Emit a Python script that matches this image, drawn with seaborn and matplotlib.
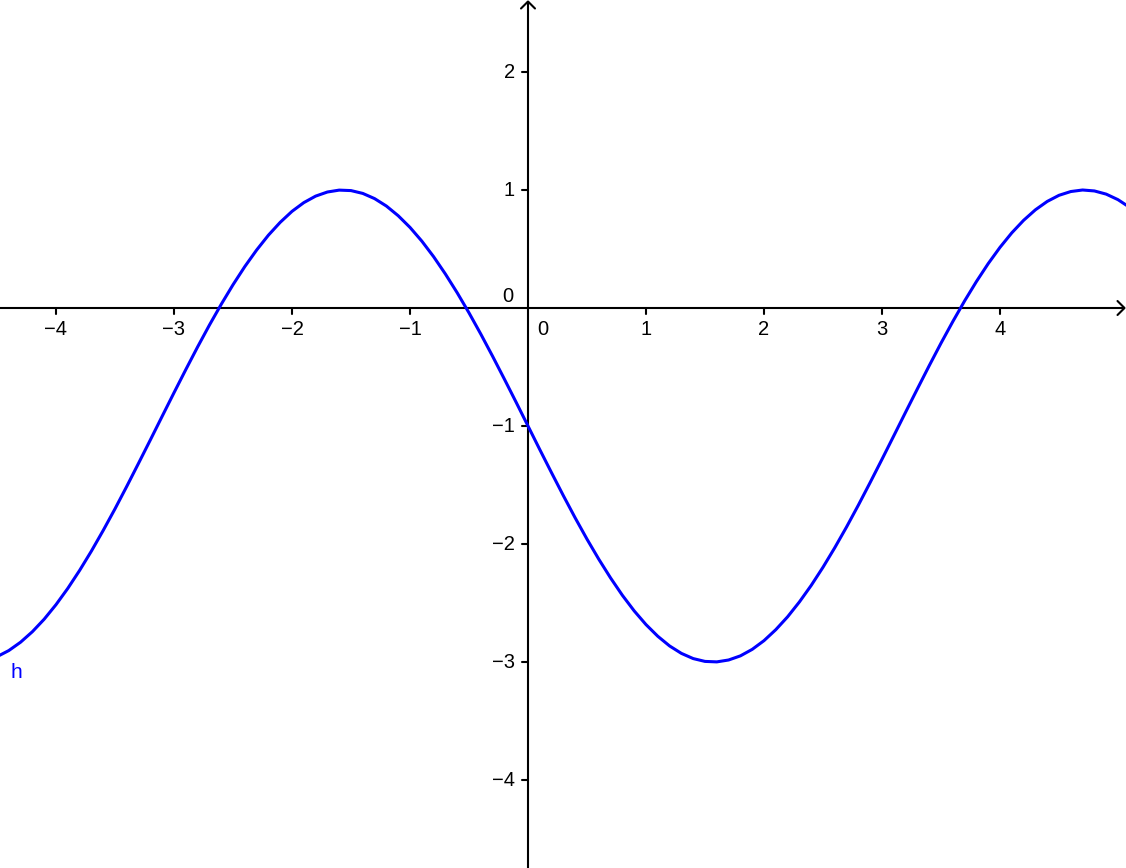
import matplotlib
matplotlib.use("Agg")
import matplotlib.pyplot as plt
import seaborn as sns
import pandas as pd
import numpy as np

sns.set_theme(style="white")
plt.rcParams['font.family'] = ['Liberation Sans', 'DejaVu Sans']

# values (curve h)
x_vals = [-4.5, -4.4, -4.3, -4.2, -4.1, -4.0, -3.9, -3.8, -3.7, -3.6, -3.5, -3.4, -3.3, -3.2,
          -3.1, -3.0, -2.9, -2.8, -2.7, -2.6, -2.5, -2.4, -2.3, -2.2, -2.1, -2.0, -1.9, -1.8,
          -1.7, -1.6, -1.5, -1.4, -1.3, -1.2, -1.1, -1.0, -0.9, -0.8, -0.7, -0.6, -0.5, -0.4,
          -0.3, -0.2, -0.1, 0.0, 0.1, 0.2, 0.3, 0.4, 0.5, 0.6, 0.7, 0.8, 0.9, 1.0, 1.1, 1.2,
          1.3, 1.4, 1.5, 1.6, 1.7, 1.8, 1.9, 2.0, 2.1, 2.2, 2.3, 2.4, 2.5, 2.6, 2.7, 2.8, 2.9,
          3.0, 3.1, 3.2, 3.3, 3.4, 3.5, 3.6, 3.7, 3.8, 3.9, 4.0, 4.1, 4.2, 4.3, 4.4, 4.5, 4.6,
          4.7, 4.8, 4.9, 5.0, 5.1]
h_vals = [-2.955, -2.903, -2.832, -2.743, -2.637, -2.514, -2.376, -2.224, -2.060, -1.885,
          -1.702, -1.511, -1.315, -1.117, -0.917, -0.718, -0.522, -0.330, -0.145, 0.031,
          0.197, 0.351, 0.491, 0.617, 0.726, 0.819, 0.893, 0.948, 0.983, 0.999, 0.995,
          0.971, 0.927, 0.864, 0.782, 0.683, 0.567, 0.435, 0.288, 0.129, -0.041, -0.221,
          -0.409, -0.603, -0.800, -1.000, -1.200, -1.397, -1.591, -1.779, -1.959, -2.129,
          -2.288, -2.435, -2.567, -2.683, -2.782, -2.864, -2.927, -2.971, -2.995, -2.999,
          -2.983, -2.948, -2.893, -2.819, -2.726, -2.617, -2.491, -2.351, -2.197, -2.031,
          -1.855, -1.670, -1.478, -1.282, -1.083, -0.883, -0.685, -0.489, -0.298, -0.115,
          0.060, 0.224, 0.376, 0.514, 0.637, 0.743, 0.832, 0.903, 0.955, 0.987, 1.000,
          0.992, 0.965, 0.918, 0.852]
x_ticks = [-4, -3, -2, -1, 1, 2, 3, 4]
y_ticks = [2, 1, -1, -2, -3, -4]
curve_label = "h"

unit = 118.0  # pixels per unit
fig = plt.figure(figsize=(11.26, 8.68), dpi=100)
ax = fig.add_axes([0, 0, 1, 1])
xmin, xmax = -528 / unit, 598 / unit
ymin, ymax = -560 / unit, 308 / unit
ax.set_xlim(xmin, xmax)
ax.set_ylim(ymin, ymax)
ax.axis("off")

fs = 14.5
px = 1.0 / unit
# axes lines
ax.plot([xmin, xmax - 1 * px], [0, 0], color="black", lw=1.5, solid_capstyle="butt", zorder=2)
ax.plot([0, 0], [ymin, ymax - 1 * px], color="black", lw=1.5, solid_capstyle="butt", zorder=2)
# arrow heads (open chevrons)
ah = 7 * px
ax.plot([xmax - 1.5 * px - ah, xmax - 1.5 * px, xmax - 1.5 * px - ah], [ah, 0, -ah],
        color="black", lw=1.5, zorder=2)
ax.plot([-ah, 0, ah], [ymax - 1.5 * px - ah, ymax - 1.5 * px, ymax - 1.5 * px - ah],
        color="black", lw=1.5, zorder=2)

# ticks
for t in x_ticks:
    ax.plot([t, t], [0, -6 * px], color="black", lw=1.5, zorder=2)
    ax.text(t, -12 * px, "\u2212" + str(-t) if t < 0 else str(t), ha="center", va="top",
            fontsize=fs, color="black")
for t in y_ticks:
    ax.plot([0, -6 * px], [t, t], color="black", lw=1.5, zorder=2)
    ax.text(-13 * px, t, "\u2212" + str(-t) if t < 0 else str(t), ha="right", va="center",
            fontsize=fs, color="black")
ax.text(15 * px, -12 * px, "0", ha="center", va="top", fontsize=fs, color="black")
ax.text(-15 * px, 12 * px, "0", ha="right", va="center", fontsize=fs, color="black")

df = pd.DataFrame({"x": x_vals, "h": h_vals})
sns.lineplot(data=df, x="x", y="h", ax=ax, color="#0000ff", lw=2.2, sort=False, zorder=3)
ax.set_xlim(xmin, xmax)
ax.set_ylim(ymin, ymax)
ax.axis("off")

ax.text(-4.339, -3.093, curve_label, color="#0000ff", fontsize=15, ha="center", va="center")

fig.savefig("out.png", dpi=100)
